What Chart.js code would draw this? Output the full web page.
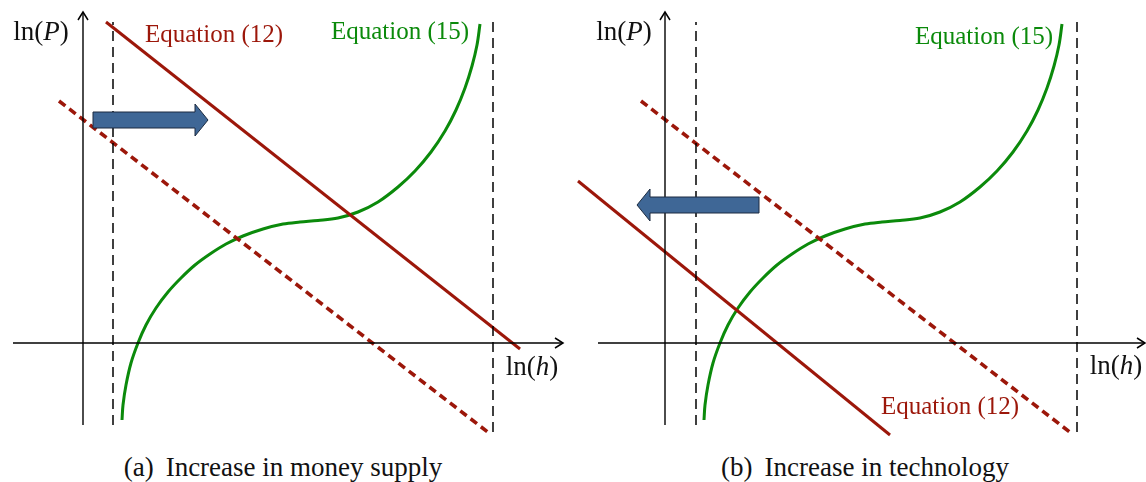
<!DOCTYPE html>
<html>
<head>
<meta charset="utf-8">
<script src="https://cdn.jsdelivr.net/npm/chart.js@4"></script>
<style>
  body { margin: 0; background: #fff; width: 1146px; height: 482px; overflow: hidden; position: relative; font-family: "Liberation Serif", "Times New Roman", "DejaVu Serif", serif; }
  canvas { position: absolute; top: 0; }
  #chartA { left: 0; }
  #chartB { left: 573px; }
  .cap { position: absolute; top: 452px; font-size: 27px; line-height: 30px; color: #111; text-align: center; white-space: nowrap; }
  .cap span { margin-right: 12px; }
</style>
</head>
<body>
<canvas id="chartA" width="573" height="445"></canvas>
<canvas id="chartB" width="573" height="445"></canvas>
<div class="cap" style="left:0;width:566px"><span>(a)</span>Increase in money supply</div>
<div class="cap" style="left:580px;width:570px"><span>(b)</span>Increase in technology</div>
<script>
// Phase diagram: ln(h) on x, ln(P) on y, origin where the axes cross.
// Values (same units on both axes).

// Equation (15) — S-shaped curve, shared by both panels
const EQ15_LNH = [39, 40, 43, 48, 55, 63, 73, 85, 98, 112, 127, 143, 160, 180, 200, 217, 235, 255, 275, 295, 315, 332, 348, 362, 373, 382, 389, 394, 397];
const EQ15_LNP = [-77, -62, -42, -20, 0, 18, 35, 51, 65, 78, 89, 99, 107, 114, 119, 121, 122.5, 125, 131, 141, 156, 172, 191, 212, 233, 255, 277, 298, 319];

// Equation (12) before the shock (dashed), same in both panels
const EQ12_OLD_LNH = [-24, 406];
const EQ12_OLD_LNP = [242, -90];

// Equation (12) after the shock (solid)
const EQ12_MONEY_LNH = [23, 437];
const EQ12_MONEY_LNP = [321, -6];
const EQ12_TECH_LNH = [-87, 225];
const EQ12_TECH_LNP = [162, -92];

// vertical asymptotes (dashed black)
const ASYM_A_LNH = [30, 410];
const ASYM_B_LNH = [31, 412];
const ASYM_TOP = [321, 326];
const ASYM_BOTTOM = [-82, -89];

// axes extents
const AXIS_H_A = [-70, 480];
const AXIS_H_B = [-67, 480];
const AXIS_P = [-82, 331];

// shift arrows: [tail, tip] on ln(h), and the ln(P) level
const SHIFT_A_LNH = [10, 125];
const SHIFT_A_LNP = 223;
const SHIFT_B_LNH = [94, -28];
const SHIFT_B_LNP = 138;

const RED = '#9c170a';
const GREEN = '#0b8a0b';
const BLUE = '#3f6796';
const SERIF = '"Liberation Serif", "Times New Roman", "DejaVu Serif", serif';

function line(xs, ys, style) {
  return Object.assign({
    data: xs.map((v, i) => ({ x: v, y: ys[i] })),
    showLine: true, pointRadius: 0, fill: false, borderCapStyle: 'butt'
  }, style);
}

const AXIS_STYLE = { borderColor: '#000', borderWidth: 1.4 };
const ASYM_STYLE = { borderColor: '#000', borderWidth: 1.5, borderDash: [10, 6] };
const OLD_STYLE = { borderColor: RED, borderWidth: 3.6, borderDash: [8, 5] };
const NEW_STYLE = { borderColor: RED, borderWidth: 3 };
const EQ15_STYLE = { borderColor: GREEN, borderWidth: 3, tension: 0.35 };

// ---- drawing helpers ----
function axisHead(ctx, px, py, dir) {
  ctx.beginPath();
  if (dir === 'right') { ctx.moveTo(px - 8, py - 5); ctx.lineTo(px, py); ctx.lineTo(px - 8, py + 5); }
  else { ctx.moveTo(px - 5, py + 8); ctx.lineTo(px, py); ctx.lineTo(px + 5, py + 8); }
  ctx.strokeStyle = '#000';
  ctx.lineWidth = 1.5;
  ctx.stroke();
}

function blockArrow(ctx, x0, x1, py) {
  const d = Math.sign(x1 - x0), hb = x1 - d * 13;
  ctx.beginPath();
  ctx.moveTo(x0, py - 8);
  ctx.lineTo(hb, py - 8);
  ctx.lineTo(hb, py - 16);
  ctx.lineTo(x1, py);
  ctx.lineTo(hb, py + 16);
  ctx.lineTo(hb, py + 8);
  ctx.lineTo(x0, py + 8);
  ctx.closePath();
  ctx.fillStyle = BLUE;
  ctx.fill();
  ctx.strokeStyle = '#1c2b40';
  ctx.lineWidth = 1;
  ctx.stroke();
}

function drawLabel(ctx, lab, cx, cy) {
  const fontFor = it => (it ? 'italic ' : '') + lab.size + 'px ' + SERIF;
  let w = 0;
  lab.parts.forEach(p => { ctx.font = fontFor(p[1]); w += ctx.measureText(p[0]).width; });
  let x = cx - w / 2;
  ctx.fillStyle = lab.color;
  ctx.textBaseline = 'middle';
  ctx.textAlign = 'left';
  lab.parts.forEach(p => { ctx.font = fontFor(p[1]); ctx.fillText(p[0], x, cy); x += ctx.measureText(p[0]).width; });
}

const figurePlugin = {
  id: 'figure',
  afterDatasetsDraw(chart, args, opts) {
    const { ctx, scales: { x, y } } = chart;
    ctx.save();
    axisHead(ctx, x.getPixelForValue(opts.axisH[1]), y.getPixelForValue(0), 'right');
    axisHead(ctx, x.getPixelForValue(0), y.getPixelForValue(AXIS_P[1]), 'up');
    blockArrow(ctx, x.getPixelForValue(opts.shift[0]), x.getPixelForValue(opts.shift[1]), y.getPixelForValue(opts.shiftAt));
    opts.labels.forEach(l => drawLabel(ctx, l, x.getPixelForValue(l.at[0]), y.getPixelForValue(l.at[1])));
    ctx.restore();
  }
};

const lnP = at => ({ parts: [['ln(', 0], ['P', 1], [')', 0]], size: 27, color: '#111', at });
const lnH = at => ({ parts: [['ln(', 0], ['h', 1], [')', 0]], size: 27, color: '#111', at });
const eq = (t, color, at) => ({ parts: [[t, 0]], size: 25, color, at });

function makeChart(id, cfg) {
  const datasets = [
    line(cfg.axisH, [0, 0], AXIS_STYLE),
    line([0, 0], AXIS_P, AXIS_STYLE),
    line([cfg.asym[0], cfg.asym[0]], [ASYM_BOTTOM[0], ASYM_TOP[0]], ASYM_STYLE),
    line([cfg.asym[1], cfg.asym[1]], [ASYM_BOTTOM[1], ASYM_TOP[1]], ASYM_STYLE),
    line(EQ12_OLD_LNH, EQ12_OLD_LNP, OLD_STYLE),
    line(cfg.newH, cfg.newP, NEW_STYLE),
    line(EQ15_LNH, EQ15_LNP, EQ15_STYLE)
  ];
  return new Chart(document.getElementById(id), {
    type: 'scatter',
    data: { datasets },
    plugins: [figurePlugin],
    options: {
      responsive: false, animation: false, events: [],
      layout: { padding: 0 },
      plugins: {
        legend: { display: false }, tooltip: { enabled: false },
        figure: { axisH: cfg.axisH, shift: cfg.shift, shiftAt: cfg.shiftAt, labels: cfg.labels }
      },
      scales: {
        x: { type: 'linear', display: false, min: cfg.xMin, max: cfg.xMin + 573 },
        y: { type: 'linear', display: false, min: -102, max: 343 }
      }
    }
  });
}

makeChart('chartA', {
  xMin: -83, axisH: AXIS_H_A, asym: ASYM_A_LNH,
  newH: EQ12_MONEY_LNH, newP: EQ12_MONEY_LNP,
  shift: SHIFT_A_LNH, shiftAt: SHIFT_A_LNP,
  labels: [lnP([-42, 310]), eq('Equation (12)', RED, [131, 308]), eq('Equation (15)', GREEN, [317, 311]), lnH([449, -25])]
});

makeChart('chartB', {
  xMin: -92, axisH: AXIS_H_B, asym: ASYM_B_LNH,
  newH: EQ12_TECH_LNH, newP: EQ12_TECH_LNP,
  shift: SHIFT_B_LNH, shiftAt: SHIFT_B_LNP,
  labels: [lnP([-41, 310]), eq('Equation (15)', GREEN, [319, 306]), eq('Equation (12)', RED, [285, -64]), lnH([451, -24])]
});
</script>
</body>
</html>
